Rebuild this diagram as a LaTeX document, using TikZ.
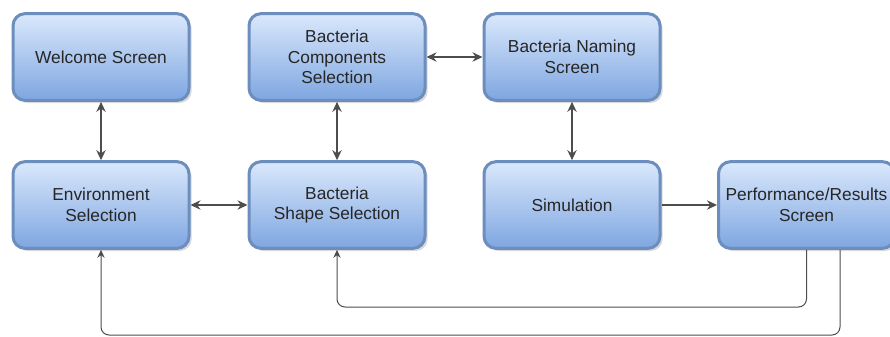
\documentclass[tikz,border=0pt]{standalone}
\usepackage{fontspec}
\setmainfont{Liberation Sans}
\usetikzlibrary{arrows.meta}
\usetikzlibrary{shadows}
\definecolor{boxline}{HTML}{6C8EBF}
\definecolor{boxtop}{HTML}{DAE8FC}
\definecolor{boxbottom}{HTML}{7EA6E0}
\definecolor{linkgray}{HTML}{4D4D4D}
\tikzset{
screenbox/.style={
    draw=boxline, line width=2.25pt, rounded corners=9pt,
    top color=boxtop, bottom color=boxbottom,
    minimum width=132pt, minimum height=65pt,
    align=center, text=black!85, font=\fontsize{13}{15.4}\selectfont,
    drop shadow={shadow xshift=2pt, shadow yshift=-2pt, opacity=0.3}
},
link/.style={draw=linkgray, line width=1.1pt, {Stealth[length=7.5pt,width=7pt]}-{Stealth[length=7.5pt,width=7pt]}},
oneway/.style={draw=linkgray, line width=1.1pt, -{Stealth[length=7.5pt,width=7pt]}},
feedback/.style={draw=linkgray, line width=0.75pt, rounded corners=6pt, -{Stealth[length=6pt,width=5.5pt]}},
}

\begin{document}
\begin{tikzpicture}[x=0.75pt, y=-0.75pt]
		\useasboundingbox (0, 0) rectangle (890, 336);
		\node [style=screenbox] (0) at (101, 57) {Welcome Screen};
		\node [style=screenbox] (1) at (337, 57) {Bacteria\\Components\\Selection};
		\node [style=screenbox] (2) at (572, 57) {Bacteria Naming\\Screen};
		\node [style=screenbox] (3) at (101, 205) {Environment\\Selection};
		\node [style=screenbox] (4) at (337, 205) {Bacteria\\Shape Selection};
		\node [style=screenbox] (5) at (572, 205) {Simulation};
		\node [style=screenbox] (6) at (806.5, 205) {Performance/Results\\Screen};
		\coordinate (7) at (806.5, 307);
		\coordinate (8) at (840, 250);
		\coordinate (9) at (840, 335);
		\draw [style=link] (0) to (3);
		\draw [style=link] (1) to (4);
		\draw [style=link] (1) to (2);
		\draw [style=link] (2) to (5);
		\draw [style=link] (3) to (4);
		\draw [style=oneway] (5) to (6);
		\draw [style=feedback] (6.south) -- (7) -| (4.south);
		\draw [style=feedback] (8) -- (9) -| (3.south);
	\end{tikzpicture}
\end{document}
